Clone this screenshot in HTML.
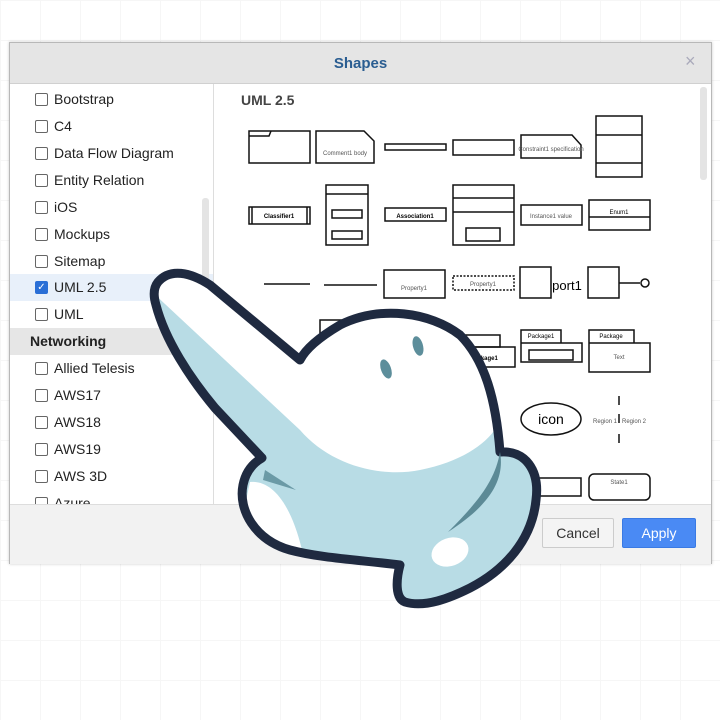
<!DOCTYPE html>
<html><head><meta charset="utf-8"><style>
html,body{margin:0;padding:0;width:720px;height:720px;overflow:hidden;background:#fff;font-family:"Liberation Sans",sans-serif}
.grid{position:absolute;left:0;top:0;width:720px;height:720px;background-image:linear-gradient(#f6f6f6 1px,transparent 1px),linear-gradient(90deg,#f6f6f6 1px,transparent 1px);background-size:40px 40px}
.dlg{position:absolute;left:9px;top:42px;width:701px;height:520px;background:#fff;border:1px solid #b8b8b8;box-shadow:0 0 3px rgba(0,0,0,.2)}
.hdr{position:absolute;left:0;top:0;width:701px;height:40px;background:#e5e5e5;border-bottom:1px solid #d0d0d0}
.ttl{position:absolute;left:0;width:701px;top:12px;text-align:center;font-size:15px;font-weight:bold;color:#2a5d91}
.x{position:absolute;left:675px;top:8px;font-size:18px;color:#aab}
.left{position:absolute;left:0;top:41px;width:203px;height:420px;border-right:1px solid #ddd;overflow:hidden}
.it{position:absolute;left:0;width:203px;height:27px;font-size:14px;color:#222}
.it .cb{position:absolute;left:25px;top:7px;width:11px;height:11px;border:1px solid #666;border-radius:2px;background:#fff}
.it span{position:absolute;left:44px;top:5px}
.foot{position:absolute;left:0;top:461px;width:701px;height:59px;background:#f2f2f2;border-top:1px solid #ddd}
.btn{position:absolute;top:13px;height:28px;font-size:14px;line-height:28px;text-align:center;border-radius:2px}
</style></head><body>
<div class="grid"></div>
<div class="dlg">
<div class="hdr"><div class="ttl">Shapes</div><div class="x">×</div></div>
<div class="left">
<div class="it" style="top:2px"><div class="cb"></div><span>Bootstrap</span></div>
<div class="it" style="top:29px"><div class="cb"></div><span>C4</span></div>
<div class="it" style="top:56px"><div class="cb"></div><span>Data Flow Diagram</span></div>
<div class="it" style="top:83px"><div class="cb"></div><span>Entity Relation</span></div>
<div class="it" style="top:110px"><div class="cb"></div><span>iOS</span></div>
<div class="it" style="top:137px"><div class="cb"></div><span>Mockups</span></div>
<div class="it" style="top:164px"><div class="cb"></div><span>Sitemap</span></div>
<div class="it" style="top:190px;background:#e8f0fa"><div class="cb" style="background:#2a6fd6;border-color:#2a6fd6;color:#fff;font-size:10px;line-height:11px;text-align:center">✓</div><span>UML 2.5</span></div>
<div class="it" style="top:217px"><div class="cb"></div><span>UML</span></div>
<div class="it" style="top:244px;background:#e6e6e6;font-weight:bold"><span style="left:20px">Networking</span></div>
<div class="it" style="top:271px"><div class="cb"></div><span>Allied Telesis</span></div>
<div class="it" style="top:298px"><div class="cb"></div><span>AWS17</span></div>
<div class="it" style="top:325px"><div class="cb"></div><span>AWS18</span></div>
<div class="it" style="top:352px"><div class="cb"></div><span>AWS19</span></div>
<div class="it" style="top:379px"><div class="cb"></div><span>AWS 3D</span></div>
<div class="it" style="top:406px"><div class="cb"></div><span>Azure</span></div>
<div style="position:absolute;left:192px;top:114px;width:7px;height:107px;background:#e4e4e4;border-radius:3px"></div>
</div>
<div style="position:absolute;left:690px;top:44px;width:7px;height:93px;background:#e4e4e4;border-radius:3px"></div>
<div class="foot">
<div class="btn" style="left:532px;width:70px;border:1px solid #ccc;background:#f4f4f4;color:#333">Cancel</div>
<div class="btn" style="left:612px;width:72px;border:1px solid #3a7ae4;background:#4a8af4;color:#fff">Apply</div>
</div>
</div>
<svg style="position:absolute;left:0;top:0" width="720" height="720" font-family="Liberation Sans, sans-serif">
<defs><clipPath id="hc"><path id="hp" d="M158 282 C170 268 190 272 210 285 L300 360 C305 350 318 338 340 325 C380 305 430 312 460 335 C485 360 496 400 500 452 C525 450 540 470 536 500 C532 540 505 570 470 588 C450 598 425 608 405 602 C395 598 396 580 400 565 C360 560 320 558 290 550 C255 540 238 510 243 485 C246 470 255 462 262 458 L215 408 C190 378 165 340 156 305 C153 295 154 287 158 282Z"/></clipPath></defs>
<text x="241" y="105" font-size="14" font-weight="bold" fill="#444">UML 2.5</text>
<g fill="none" stroke="#111" stroke-width="1.5">
<rect x="249" y="131" width="61" height="32"/><path d="M249 136h20l2-5"/>
<path d="M316 131h48l10 10v22h-58z"/>
<rect x="385" y="144" width="61" height="6"/>
<rect x="453" y="140" width="61" height="15"/>
<path d="M521 135h51l9 10v13h-60z"/>
<rect x="596" y="116" width="46" height="61"/><path d="M596 135h46M596 163h46"/>
<rect x="249" y="207" width="61" height="17"/><path d="M252 207v17M307 207v17"/>
<rect x="326" y="185" width="42" height="60"/><path d="M326 194h42"/><rect x="332" y="210" width="30" height="8"/><rect x="332" y="231" width="30" height="8"/>
<rect x="385" y="208" width="61" height="13"/>
<rect x="453" y="185" width="61" height="60"/><path d="M453 198h61M453 212h61"/><rect x="466" y="228" width="34" height="13"/>
<rect x="521" y="205" width="61" height="20"/>
<rect x="589" y="200" width="61" height="30"/><path d="M589 217h61"/>
<path d="M264 284h46M324 285h53"/>
<rect x="384" y="270" width="61" height="28"/>
<rect x="453" y="276" width="61" height="14" stroke-dasharray="2 1.5"/>
<rect x="520" y="267" width="31" height="31"/>
<rect x="588" y="267" width="31" height="31"/><path d="M619 283h21"/><circle cx="645" cy="283" r="4"/>
<rect x="320" y="320" width="40" height="20"/>
<path d="M460 347h40v-12h-40z"/><rect x="465" y="347" width="50" height="20"/>
<path d="M521 330h40v13h-40zM521 343h61v19h-61z"/><rect x="529" y="350" width="44" height="10"/>
<path d="M589 330h45v13h-45zM589 343h61v29h-61z"/>
<ellipse cx="551" cy="419" rx="30" ry="16"/>
<path d="M619 396v9M619 414v9M619 434v9"/>
<rect x="505" y="478" width="76" height="18"/>
<rect x="589" y="474" width="61" height="26" rx="5"/>
</g>
<g font-size="6" fill="#555" text-anchor="middle">
<text x="345" y="155">Comment1 body</text><text x="551" y="151">Constraint1 specification</text>
<text x="279" y="218" font-weight="bold" fill="#000">Classifier1</text><text x="415" y="218" font-weight="bold" fill="#000">Association1</text>
<text x="551" y="218">Instance1 value</text><text x="619" y="214" fill="#000">Enum1</text>
<text x="414" y="290">Property1</text><text x="483" y="286">Property1</text>
<text x="484" y="360" font-weight="bold" fill="#000">Package1</text><text x="541" y="338" fill="#000">Package1</text><text x="611" y="338" fill="#000">Package</text><text x="619" y="359">Text</text>
<text x="605" y="423">Region 1</text><text x="634" y="423">Region 2</text><text x="619" y="484">State1</text>
</g>
<text x="567" y="290" font-size="13" fill="#000" text-anchor="middle">port1</text>
<text x="551" y="424" font-size="14" fill="#000" text-anchor="middle">icon</text>
<use href="#hp" fill="#ffffff"/>
<g clip-path="url(#hc)">
<path fill="#b8dce5" d="M150 290 L300 430 C330 465 380 478 420 470 C460 462 485 445 496 428 L600 428 L600 640 L120 640 Z"/>
<path fill="#fff" d="M250 482 C270 480 290 500 302 550 C280 545 255 530 245 505Z"/>
</g>
<use href="#hp" fill="none" stroke="#1f2a40" stroke-width="9" stroke-linejoin="round"/>
<ellipse cx="450" cy="552" rx="19" ry="14" fill="#fff" transform="rotate(-20 450 552)"/>
<path fill="#6b9aa6" d="M263 480 L265 470 L296 490Z"/>
<path fill="#5c8a96" d="M500 452 C505 480 490 505 448 532 C480 500 495 480 500 452Z"/>
<ellipse cx="386" cy="369" rx="5" ry="10" fill="#5d8e9b" transform="rotate(-20 386 369)"/>
<ellipse cx="418" cy="346" rx="5" ry="10" fill="#5d8e9b" transform="rotate(-15 418 346)"/>
</svg>
</body></html>
